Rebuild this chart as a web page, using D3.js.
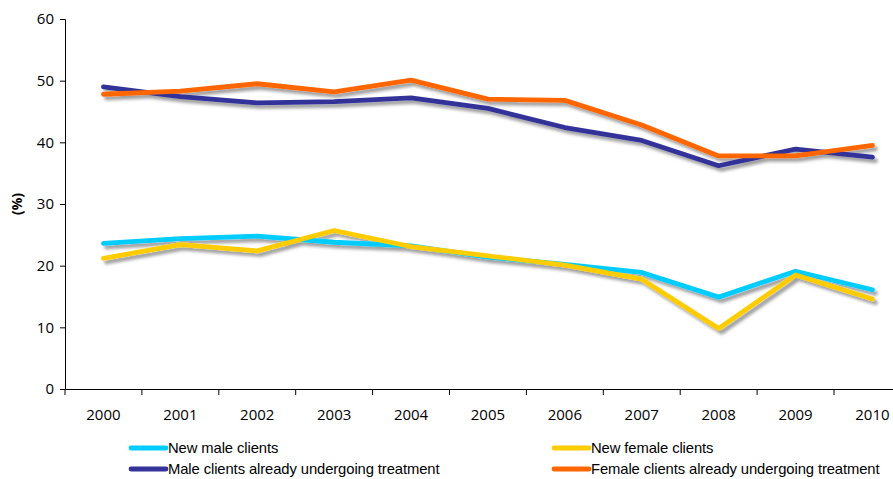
<!DOCTYPE html>
<html>
<head>
<meta charset="utf-8">
<script src="https://cdn.jsdelivr.net/npm/d3@7"></script>
<style>
  html, body { margin: 0; padding: 0; background: #fff; }
  svg { display: block; }
</style>
</head>
<body>
<svg id="chart" width="893" height="479"></svg>
<script>
// Treatment clients by sex and status, share in percent
const years = ["2000", "2001", "2002", "2003", "2004", "2005", "2006", "2007", "2008", "2009", "2010"];
const newMale = [23.6, 24.4, 24.8, 23.8, 23.2, 21.4, 20.2, 18.9, 14.9, 19.1, 16.1];
const newFemale = [21.2, 23.4, 22.4, 25.7, 23.1, 21.6, 20.1, 17.8, 9.8, 18.5, 14.6];
const maleOngoing = [49.0, 47.4, 46.4, 46.6, 47.2, 45.5, 42.4, 40.3, 36.2, 38.9, 37.6];
const femaleOngoing = [47.8, 48.3, 49.5, 48.2, 50.1, 47.0, 46.8, 42.8, 37.8, 37.8, 39.5];
const yTicks = [0, 10, 20, 30, 40, 50, 60];

const series = [
  { name: "New male clients", values: newMale, color: "#00CCFF" },
  { name: "New female clients", values: newFemale, color: "#FFCC00" },
  { name: "Male clients already undergoing treatment", values: maleOngoing, color: "#333399" },
  { name: "Female clients already undergoing treatment", values: femaleOngoing, color: "#FF6600" }
];

const svg = d3.select("#chart");
const plotLeft = 65, plotBottom = 389, plotTop = 19, band = 76.9;

const x = d3.scaleBand().domain(years).range([plotLeft, plotLeft + band * years.length]).paddingInner(0).paddingOuter(0);
const y = d3.scaleLinear().domain([0, 60]).range([plotBottom, plotTop]);

const tickFont = "'Open Sans', 'Liberation Sans', sans-serif";

// soft drop shadow under the lines
const defs = svg.append("defs");
const f = defs.append("filter").attr("id", "shadow").attr("x", "-5%").attr("y", "-20%").attr("width", "110%").attr("height", "140%");
f.append("feDropShadow").attr("dx", 3).attr("dy", 3.5).attr("stdDeviation", 1.6)
  .attr("flood-color", "#000").attr("flood-opacity", 0.38);

// y axis
const yAxis = svg.append("g").attr("transform", `translate(${plotLeft},0)`)
  .call(d3.axisLeft(y).tickValues(yTicks).tickSize(5).tickPadding(6).tickFormat(d3.format("d")));
yAxis.select(".domain").attr("stroke", "#000");
yAxis.selectAll(".tick line").attr("stroke", "#000");
yAxis.selectAll("text").attr("font-family", tickFont).attr("font-size", 15).attr("fill", "#000");

// x axis: labels centred in bands, tick marks on band edges
const xAxis = svg.append("g").attr("transform", `translate(0,${plotBottom})`)
  .call(d3.axisBottom(x).tickSize(0).tickPadding(20));
xAxis.select(".domain").attr("stroke", "#000");
xAxis.selectAll("text").attr("font-family", tickFont).attr("font-size", 15).attr("fill", "#000");
xAxis.selectAll(".edge").data(years).enter().append("line").attr("class", "edge")
  .attr("x1", d => x(d)).attr("x2", d => x(d)).attr("y1", 0).attr("y2", 6).attr("stroke", "#000");

// y axis title
svg.append("text")
  .attr("transform", `translate(22,${(plotTop + plotBottom) / 2}) rotate(-90)`)
  .attr("text-anchor", "middle")
  .attr("font-family", tickFont).attr("font-size", 14).attr("font-weight", "bold")
  .text("(%)");

// lines
const line = d3.line()
  .x((d, i) => x(years[i]) + x.bandwidth() / 2)
  .y(d => y(d));

svg.append("g").attr("filter", "url(#shadow)")
  .selectAll("path").data(series).enter().append("path")
  .attr("d", d => line(d.values))
  .attr("fill", "none")
  .attr("stroke", d => d.color)
  .attr("stroke-width", 4.8)
  .attr("stroke-linejoin", "round")
  .attr("stroke-linecap", "round");

// legend, two columns
const legendPos = [[131, 448], [554, 448], [131, 469], [554, 469]];
const lg = svg.append("g").selectAll("g").data(series).enter().append("g")
  .attr("transform", (d, i) => `translate(${legendPos[i][0]},${legendPos[i][1]})`);
lg.append("line").attr("x1", 0).attr("x2", 35).attr("y1", 0).attr("y2", 0)
  .attr("stroke", d => d.color).attr("stroke-width", 4.8).attr("stroke-linecap", "round");
lg.append("text").attr("x", 37).attr("y", 0).attr("dy", "0.36em")
  .attr("font-family", "'Liberation Sans', Arial, sans-serif").attr("font-size", 14.8)
  .attr("letter-spacing", -0.1)
  .attr("fill", "#000")
  .text(d => d.name);
</script>
</body>
</html>
